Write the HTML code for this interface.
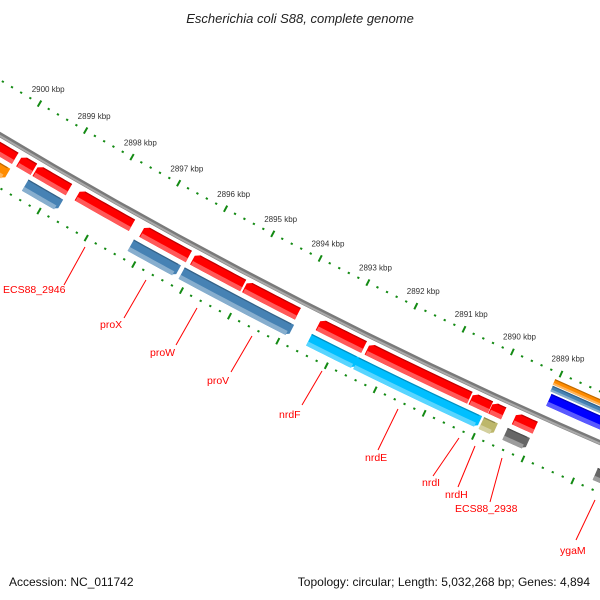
<!DOCTYPE html>
<html><head><meta charset="utf-8">
<style>
html,body{margin:0;padding:0;background:#fff;}
svg{display:block;font-family:"Liberation Sans",sans-serif;}
</style></head>
<body>
<svg id="map" width="600" height="600" viewBox="0 0 600 600" xmlns="http://www.w3.org/2000/svg">
<rect width="600" height="600" fill="#fff"/>
<text x="300" y="23" text-anchor="middle" font-size="13" font-style="italic" fill="#222">Escherichia coli S88, complete genome</text>
<g id="ticks"></g>
<g id="backbone"></g>
<g id="feats"></g>
<g id="labels"></g>
<text x="9" y="586" font-size="12" fill="#111">Accession: NC_011742</text>
<text x="590" y="586" text-anchor="end" font-size="12" fill="#111">Topology: circular; Length: 5,032,268 bp; Genes: 4,894</text>
</svg>
<script>
// data
const tickKbp = [2889,2890,2891,2892,2893,2894,2895,2896,2897,2898,2899,2900];
const featStart = [2899.87,2899.47,2898.72,2897.38,2896.18,2895.04,2893.90,2892.53,2890.36,2889.94,2889.67,2889.03,
                   2898.72,2896.23,2893.87,2892.52,2890.01,2889.69,2889.04,2899.85,2880.0, 2880.0,2880.0,2880.0];
const featEnd   = [2900.6,2899.78,2899.43,2898.53,2897.16,2896.09,2895.00,2893.47,2892.46,2890.33,2889.93,2889.45,
                   2899.46,2897.22,2896.15,2893.50,2892.53,2889.97,2889.49,2900.6,2887.67,2889.06,2889.05,2889.01];
const featStrand = [1,1,1,1,1,1,1,1,1,1,1,1, -1,-1,-1,-1,-1,-1,-1,-1,-1, 0,0,0];
const featRing = ['f','f','f','f','f','f','f','f','f','f','f','f','r','r','r','r','r','r','r','r','r','o1','o2','o3'];
const featColor = ['#ff0000','#ff0000','#ff0000','#ff0000','#ff0000','#ff0000','#ff0000','#ff0000','#ff0000','#ff0000','#ff0000','#ff0000',
                   '#4682b4','#4682b4','#4682b4','#00bfff','#00bfff','#bdb76b','#666666','#ff8c00','#666666','#ff8c00','#4682b4','#0000ff'];
const labelText = ['ECS88_2946','proX','proW','proV','nrdF','nrdE','nrdI','nrdH','ECS88_2938','ygaM'];

// geometry
const CX=2694, CY=-4376, R=5254, TH0=120.65, DEG=0.588;
function ang(k){return (TH0+(k-2900)*DEG)*Math.PI/180;}
function pt(k,r){const a=ang(k);return [CX+r*Math.cos(a), CY+r*Math.sin(a)];}
const ringR = {f:[6,19], r:[24,37], o1:[-40,-34], o2:[-33,-27], o3:[-25,-12]};
const NS='http://www.w3.org/2000/svg';
function mk(tag,attrs,parent){const e=document.createElementNS(NS,tag);for(const k in attrs)e.setAttribute(k,attrs[k]);parent.appendChild(e);return e;}
function arcPts(k1,k2,r){const p=[];const n=12;for(let i=0;i<=n;i++){p.push(pt(k1+(k2-k1)*i/n,R+r));}return p;}
function P(a){return a.map(q=>q[0].toFixed(2)+','+q[1].toFixed(2)).join(' ');}

// backbone
const bb=document.getElementById('backbone');
let bl=mk('polyline',{points:P(arcPts(2901.8,2886,0)),fill:'none',stroke:'#7a7a7a','stroke-width':5},bb);


let bl2=mk('polyline',{points:P(arcPts(2901.8,2886,1)),fill:'none',stroke:'#a9a9a9','stroke-width':2},bb);



// ticks
const tg=document.getElementById('ticks');
for(const rr of [-47,46]){
  for(let i=0;i<=80;i++){
    const k=2885+i*0.2;
    const isMajor=Math.abs(k-Math.round(k))<1e-6;
    const a=pt(k,R+rr-(isMajor?3.5:1)), b=pt(k,R+rr+(isMajor?3.5:1));
    const t=mk('line',{x1:a[0],y1:a[1],x2:b[0],y2:b[1],stroke:'#138a13','stroke-width':isMajor?2:2.2},tg);
    
    
  }
}
tickKbp.forEach(k=>{
  const p=pt(k,R-64);
  const t=mk('text',{x:p[0],y:p[1]+3,'text-anchor':'middle','font-size':8,fill:'#333'},tg);
  t.textContent=k+' kbp';
  
  
});

// features
function shade(c,f){const n=parseInt(c.slice(1),16);let r=n>>16,g=(n>>8)&255,b=n&255;
  if(f>0){r+=(255-r)*f;g+=(255-g)*f;b+=(255-b)*f;}else{r*=1+f;g*=1+f;b*=1+f;}
  return 'rgb('+Math.round(r)+','+Math.round(g)+','+Math.round(b)+')';}
const fg=document.getElementById('feats');
for(let i=0;i<featStart.length;i++){
  const [r1,r2]=ringR[featRing[i]];
  let s=featStart[i], e=featEnd[i];
  const head=0.09, st=featStrand[i];
  const rm=(r1+r2)/2;
  let pts;
  if(st===1){
    const eb=Math.max(s,e-head);
    pts=arcPts(s,eb,r1).concat([pt(e,R+r1+2)]).concat([pt(e,R+r2)]).concat(arcPts(eb,s,r2));
    pts=arcPts(s,eb,r1).concat([pt(e,R+r1+3),pt(e,R+r2)]).concat(arcPts(eb,s,r2));
  }else if(st===-1){
    const sb=Math.min(e,s+head);
    pts=arcPts(sb,e,r1).concat(arcPts(e,sb,r2)).concat([pt(s,R+r2-3),pt(s,R+r1)]);
  }else{
    pts=arcPts(s,e,r1).concat(arcPts(e,s,r2));
  }
  const g=mk('g',{},fg);
  
  
  mk('polygon',{points:P(pts),fill:featColor[i]},g);
  // lighter outer bevel
  const lo=r2-(r2-r1)*0.35;
  const s2=st===-1?Math.min(e,s+head*0.6):s, e2=st===1?Math.max(s,e-head*0.2):e;
  mk('polygon',{points:P(arcPts(s2,e2,lo).concat(arcPts(e2,s2,r2))),fill:shade(featColor[i],0.35)},g);
  // darker inner edge
  mk('polyline',{points:P(arcPts(s2,st===1?Math.max(s,e-head):e2,r1+0.6)),fill:'none',stroke:shade(featColor[i],-0.25),'stroke-width':1.2},g);
}

// labels
const labelX=[3,100,150,207,279,365,422,445,455,560];
const labelY=[293,328,356,384,418,461,486,498,512,554];
const lineA=[[64,285],[124,318],[176,345],[231,372],[302,405],[378,450],[433,476],[458,487],[490,502],[576,540]];
const lineB=[[85,247],[146,280],[197,308],[252,336],[322,371],[398,409],[459,438],[475,446],[502,458],[595,500]];
const lg=document.getElementById('labels');
labelText.forEach((t,i)=>{
  const l=mk('line',{x1:lineA[i][0],y1:lineA[i][1],x2:lineB[i][0],y2:lineB[i][1],stroke:'#ff0000','stroke-width':1},lg);
  
  
  const tx=mk('text',{x:labelX[i],y:labelY[i],'font-size':10.5,fill:'#ff0000'},lg);
  tx.textContent=t;
  
  
});
</script>
</body></html>
